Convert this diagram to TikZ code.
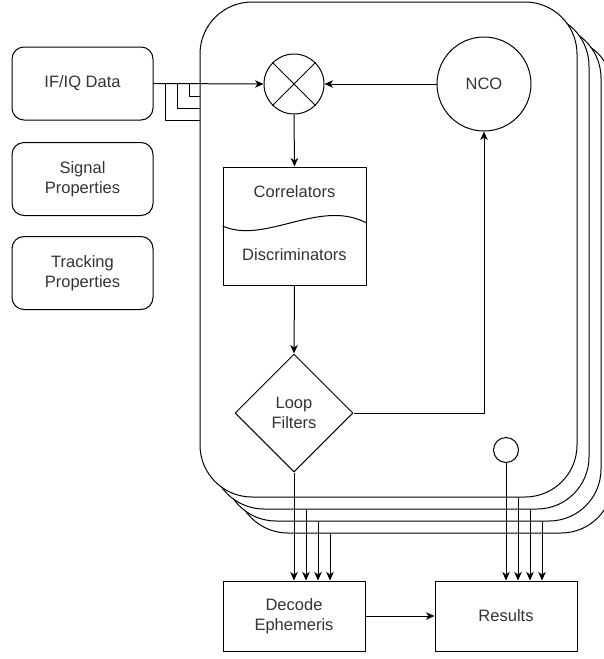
\documentclass[tikz,border=0pt]{standalone}
\usepackage{fontspec}
\setmainfont{Liberation Sans}
\usetikzlibrary{arrows.meta,shapes.geometric}

\begin{document}
\begin{tikzpicture}[x=1pt,y=-1pt,line join=round,line width=1pt,>={Stealth[length=8.5pt,width=7.5pt,inset=2.5pt]},font=\fontsize{16.5}{19.5}\selectfont]
	\def\dl{12}
	\tikzset{lay/.style={draw,fill=white,rectangle,rounded corners=52pt,minimum width=377pt,minimum height=495pt,inner sep=0pt},
		rbox/.style={draw,rectangle,rounded corners=12pt,minimum width=141pt,minimum height=73pt,align=center,text=black!80},
		box/.style={draw,rectangle,minimum width=142pt,minimum height=70pt,align=center,text=black!80},
		rnd/.style={draw,circle,inner sep=0pt,text=black!80}}
	\path[use as bounding box,clip](0,0)rectangle(604,659);
	
	% stacked channels, back to front
	\foreach \k in {3,2,1,0}{
		\node[lay](L\k) at ({388.5+\dl*\k},{249.5+\dl*\k}){};}
	
	\node[rnd,minimum size=60pt](mix) at (294,84){};
	\draw(mix.north west)--(mix.south east)(mix.north east)--(mix.south west);
	\node[rnd,minimum size=94pt](nco) at (484,84){NCO};
	\node[box,minimum width=143pt,minimum height=118pt](corr) at (294.5,226){};
	\draw(corr.west)..controls(265,245)and(320,198)..([yshift=3pt]corr.east);
	\node[text=black!80](cort) at (294.5,192){Correlators};
	\node[text=black!80](dist) at (294.5,255){Discriminators};
	\node[diamond,draw,minimum size=118pt,inner sep=0pt,align=center,text=black!80](lf) at (294,413){Loop\\Filters};
	\node[rnd,minimum size=25pt](sc) at (506,450){};
	
	\node[rbox](iq) at (82.5,83.5){IF/IQ Data};
	\node[rbox](sig) at (82.5,179){Signal\\Properties};
	\node[rbox](trk) at (82.5,273){Tracking\\Properties};
	\node[box](dec) at (294,616){Decode\\Ephemeris};
	\node[box](res) at (506,616){Results};
	
	\foreach \x/\a/\y/\b in {iq/east/mix/west,nco/west/mix/east,mix/south/corr/north,corr/south/lf/north,lf/south/dec/north,sc/south/res/north,dec/east/res/west}{
		\draw[->](\x.\a)--(\y.\b);	}
	\draw[->](lf.east)-|(nco.south);
	
	% feeds of the hidden channels
	\foreach \k in {1,2,3}{
		\pgfmathtruncatemacro\j{\k-1}
		\coordinate(il\k) at ({201-\dl*\k},{84+\dl*\k});
		\coordinate(dl\k) at ({294+\dl*\k},0);
		\coordinate(rl\k) at ({506+\dl*\k},0);
		\draw(iq.east)-|(il\k)--(L0.west|-il\k);
		\draw[->](L\k.south-|dl\k)--(dec.north-|dl\k);
		\draw[->](L\j.south-|rl\k)--(res.north-|rl\k);	}
\end{tikzpicture}
\end{document}
